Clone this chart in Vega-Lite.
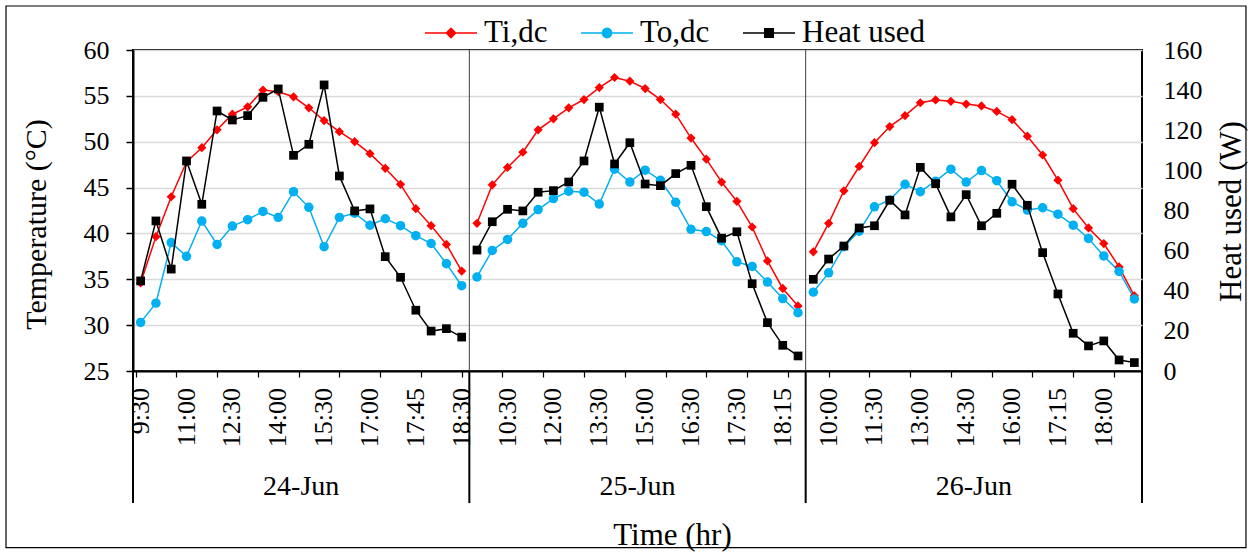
{
  "$schema": "https://vega.github.io/schema/vega-lite/v6.json",
  "width": 1009,
  "height": 321,
  "autosize": {"type": "none"},
  "padding": {"left": 133, "top": 50, "right": 110, "bottom": 181},
  "background": "white",
  "config": {
    "font": "Liberation Serif",
    "view": {"stroke": "black", "strokeWidth": 2},
    "axis": {"labelFont": "Liberation Serif", "titleFont": "Liberation Serif", "labelColor": "black", "titleColor": "black", "titleFontWeight": "normal"},
    "legend": {
      "title": null,
      "orient": "none",
      "legendX": 291,
      "legendY": -44,
      "direction": "horizontal",
      "columns": 3,
      "columnPadding": 30,
      "padding": 0,
      "labelFont": "Liberation Serif",
      "labelFontSize": 31,
      "labelColor": "black",
      "labelOffset": 6,
      "labelLimit": 300,
      "symbolSize": 2704,
      "symbolStrokeWidth": 1.5
    }
  },
  "data": {
    "values": [
      {"day": "24-Jun", "g": 0, "time": "9:30", "Ti,dc": 34.6, "To,dc": 30.3, "Heat used": 44.9},
      {"day": "24-Jun", "g": 1, "Ti,dc": 39.65, "To,dc": 32.4, "Heat used": 74.8},
      {"day": "24-Jun", "g": 2, "Ti,dc": 44.0, "To,dc": 39.0, "Heat used": 50.8},
      {"day": "24-Jun", "g": 3, "time": "11:00", "Ti,dc": 47.8, "To,dc": 37.5, "Heat used": 104.7},
      {"day": "24-Jun", "g": 4, "Ti,dc": 49.35, "To,dc": 41.35, "Heat used": 83.1},
      {"day": "24-Jun", "g": 5, "Ti,dc": 51.3, "To,dc": 38.8, "Heat used": 129.6},
      {"day": "24-Jun", "g": 6, "time": "12:30", "Ti,dc": 53.0, "To,dc": 40.8, "Heat used": 125.1},
      {"day": "24-Jun", "g": 7, "Ti,dc": 53.8, "To,dc": 41.5, "Heat used": 127.3},
      {"day": "24-Jun", "g": 8, "Ti,dc": 55.64, "To,dc": 42.4, "Heat used": 136.4},
      {"day": "24-Jun", "g": 9, "time": "14:00", "Ti,dc": 55.45, "To,dc": 41.75, "Heat used": 140.6},
      {"day": "24-Jun", "g": 10, "Ti,dc": 54.9, "To,dc": 44.55, "Heat used": 107.5},
      {"day": "24-Jun", "g": 11, "Ti,dc": 53.7, "To,dc": 42.85, "Heat used": 113.0},
      {"day": "24-Jun", "g": 12, "time": "15:30", "Ti,dc": 52.3, "To,dc": 38.55, "Heat used": 142.6},
      {"day": "24-Jun", "g": 13, "Ti,dc": 51.1, "To,dc": 41.75, "Heat used": 97.2},
      {"day": "24-Jun", "g": 14, "Ti,dc": 50.0, "To,dc": 42.2, "Heat used": 79.8},
      {"day": "24-Jun", "g": 15, "time": "17:00", "Ti,dc": 48.7, "To,dc": 40.9, "Heat used": 80.8},
      {"day": "24-Jun", "g": 16, "Ti,dc": 47.1, "To,dc": 41.6, "Heat used": 57.0},
      {"day": "24-Jun", "g": 17, "Ti,dc": 45.35, "To,dc": 40.85, "Heat used": 46.7},
      {"day": "24-Jun", "g": 18, "time": "17:45", "Ti,dc": 42.7, "To,dc": 39.75, "Heat used": 30.3},
      {"day": "24-Jun", "g": 19, "Ti,dc": 40.85, "To,dc": 38.9, "Heat used": 19.9},
      {"day": "24-Jun", "g": 20, "Ti,dc": 38.8, "To,dc": 36.7, "Heat used": 21.1},
      {"day": "24-Jun", "g": 21, "time": "18:30", "Ti,dc": 35.9, "To,dc": 34.3, "Heat used": 16.9},
      {"day": "25-Jun", "g": 22, "Ti,dc": 41.1, "To,dc": 35.25, "Heat used": 60.3},
      {"day": "25-Jun", "g": 23, "Ti,dc": 45.3, "To,dc": 38.15, "Heat used": 74.4},
      {"day": "25-Jun", "g": 24, "time": "10:30", "Ti,dc": 47.2, "To,dc": 39.35, "Heat used": 80.6},
      {"day": "25-Jun", "g": 25, "Ti,dc": 48.85, "To,dc": 41.1, "Heat used": 79.8},
      {"day": "25-Jun", "g": 26, "Ti,dc": 51.3, "To,dc": 42.6, "Heat used": 89.1},
      {"day": "25-Jun", "g": 27, "time": "12:00", "Ti,dc": 52.5, "To,dc": 43.8, "Heat used": 89.9},
      {"day": "25-Jun", "g": 28, "Ti,dc": 53.7, "To,dc": 44.6, "Heat used": 94.2},
      {"day": "25-Jun", "g": 29, "Ti,dc": 54.6, "To,dc": 44.5, "Heat used": 104.7},
      {"day": "25-Jun", "g": 30, "time": "13:30", "Ti,dc": 55.9, "To,dc": 43.2, "Heat used": 131.5},
      {"day": "25-Jun", "g": 31, "Ti,dc": 57.0, "To,dc": 47.0, "Heat used": 103.2},
      {"day": "25-Jun", "g": 32, "Ti,dc": 56.6, "To,dc": 45.6, "Heat used": 113.8},
      {"day": "25-Jun", "g": 33, "time": "15:00", "Ti,dc": 55.8, "To,dc": 46.9, "Heat used": 93.2},
      {"day": "25-Jun", "g": 34, "Ti,dc": 54.6, "To,dc": 45.8, "Heat used": 92.4},
      {"day": "25-Jun", "g": 35, "Ti,dc": 53.0, "To,dc": 43.4, "Heat used": 98.4},
      {"day": "25-Jun", "g": 36, "time": "16:30", "Ti,dc": 50.4, "To,dc": 40.45, "Heat used": 102.5},
      {"day": "25-Jun", "g": 37, "Ti,dc": 48.1, "To,dc": 40.2, "Heat used": 81.9},
      {"day": "25-Jun", "g": 38, "Ti,dc": 45.6, "To,dc": 39.2, "Heat used": 66.2},
      {"day": "25-Jun", "g": 39, "time": "17:30", "Ti,dc": 43.5, "To,dc": 36.9, "Heat used": 69.4},
      {"day": "25-Jun", "g": 40, "Ti,dc": 40.7, "To,dc": 36.4, "Heat used": 43.5},
      {"day": "25-Jun", "g": 41, "Ti,dc": 37.0, "To,dc": 34.7, "Heat used": 24.1},
      {"day": "25-Jun", "g": 42, "time": "18:15", "Ti,dc": 34.0, "To,dc": 32.9, "Heat used": 12.8},
      {"day": "25-Jun", "g": 43, "Ti,dc": 32.1, "To,dc": 31.35, "Heat used": 7.5},
      {"day": "26-Jun", "g": 44, "Ti,dc": 38.0, "To,dc": 33.6, "Heat used": 45.7},
      {"day": "26-Jun", "g": 45, "time": "10:00", "Ti,dc": 41.1, "To,dc": 35.7, "Heat used": 55.8},
      {"day": "26-Jun", "g": 46, "Ti,dc": 44.65, "To,dc": 38.55, "Heat used": 62.3},
      {"day": "26-Jun", "g": 47, "Ti,dc": 47.3, "To,dc": 40.25, "Heat used": 71.3},
      {"day": "26-Jun", "g": 48, "time": "11:30", "Ti,dc": 49.9, "To,dc": 42.9, "Heat used": 72.4},
      {"day": "26-Jun", "g": 49, "Ti,dc": 51.65, "To,dc": 43.65, "Heat used": 85.1},
      {"day": "26-Jun", "g": 50, "Ti,dc": 52.85, "To,dc": 45.35, "Heat used": 77.8},
      {"day": "26-Jun", "g": 51, "time": "13:00", "Ti,dc": 54.25, "To,dc": 44.55, "Heat used": 101.5},
      {"day": "26-Jun", "g": 52, "Ti,dc": 54.55, "To,dc": 45.7, "Heat used": 93.4},
      {"day": "26-Jun", "g": 53, "Ti,dc": 54.4, "To,dc": 47.0, "Heat used": 76.8},
      {"day": "26-Jun", "g": 54, "time": "14:30", "Ti,dc": 54.1, "To,dc": 45.6, "Heat used": 87.9},
      {"day": "26-Jun", "g": 55, "Ti,dc": 53.9, "To,dc": 46.85, "Heat used": 72.4},
      {"day": "26-Jun", "g": 56, "Ti,dc": 53.3, "To,dc": 45.75, "Heat used": 78.6},
      {"day": "26-Jun", "g": 57, "time": "16:00", "Ti,dc": 52.4, "To,dc": 43.45, "Heat used": 93.1},
      {"day": "26-Jun", "g": 58, "Ti,dc": 50.6, "To,dc": 42.55, "Heat used": 82.6},
      {"day": "26-Jun", "g": 59, "Ti,dc": 48.55, "To,dc": 42.8, "Heat used": 59.0},
      {"day": "26-Jun", "g": 60, "time": "17:15", "Ti,dc": 45.8, "To,dc": 42.1, "Heat used": 38.4},
      {"day": "26-Jun", "g": 61, "Ti,dc": 42.7, "To,dc": 40.9, "Heat used": 18.8},
      {"day": "26-Jun", "g": 62, "Ti,dc": 40.6, "To,dc": 39.45, "Heat used": 12.5},
      {"day": "26-Jun", "g": 63, "time": "18:00", "Ti,dc": 38.9, "To,dc": 37.55, "Heat used": 15.0},
      {"day": "26-Jun", "g": 64, "Ti,dc": 36.35, "To,dc": 35.85, "Heat used": 5.5},
      {"day": "26-Jun", "g": 65, "Ti,dc": 33.2, "To,dc": 32.85, "Heat used": 4.2}
    ]
  },
  "layer": [
    {
      "layer": [
        {
          "transform": [
            {"fold": ["Ti,dc"], "as": ["series", "value"]}
          ],
          "mark": {"type": "line", "strokeWidth": 1.5, "color": "#ff0000"},
          "encoding": {
            "x": {
              "field": "g", "type": "quantitative",
              "scale": {"domain": [-0.5, 65.5], "nice": false, "zero": false},
              "axis": {
                "values": [-0.333,0,0.333,0.667,1,1.333,1.667,2,2.333,2.667,3,3.333,3.667,4,4.333,4.667,5,5.333,5.667,6,6.333,6.667,7,7.333,7.667,8,8.333,8.667,9,9.333,9.667,10,10.333,10.667,11,11.333,11.667,12,12.333,12.667,13,13.333,13.667,14,14.333,14.667,15,15.333,15.667,16,16.333,16.667,17,17.333,17.667,18,18.333,18.667,19,19.333,19.667,20,20.333,20.667,21,21.333,21.667,22,22.333,22.667,23,23.333,23.667,24,24.333,24.667,25,25.333,25.667,26,26.333,26.667,27,27.333,27.667,28,28.333,28.667,29,29.333,29.667,30,30.333,30.667,31,31.333,31.667,32,32.333,32.667,33,33.333,33.667,34,34.333,34.667,35,35.333,35.667,36,36.333,36.667,37,37.333,37.667,38,38.333,38.667,39,39.333,39.667,40,40.333,40.667,41,41.333,41.667,42,42.333,42.667,43,43.333,43.667,44,44.333,44.667,45,45.333,45.667,46,46.333,46.667,47,47.333,47.667,48,48.333,48.667,49,49.333,49.667,50,50.333,50.667,51,51.333,51.667,52,52.333,52.667,53,53.333,53.667,54,54.333,54.667,55,55.333,55.667,56,56.333,56.667,57,57.333,57.667,58,58.333,58.667,59,59.333,59.667,60,60.333,60.667,61,61.333,61.667,62,62.333,62.667,63,63.333,63.667,64,64.333,64.667,65,65.333],
                "labels": false,
                "grid": false,
                "domainColor": "black",
                "domainWidth": 2,
                "tickColor": "black",
                "tickSize": 6,
                "tickWidth": 1.2,
                "title": "Time (hr)",
                "titleFontSize": 31,
                "titleX": 539,
                "titleY": 173,
                "titleAlign": "center",
                "titleAnchor": null,
                "titleBaseline": "alphabetic"
              }
            },
            "y": {
              "field": "value", "type": "quantitative",
              "scale": {"domain": [25, 60], "nice": false, "zero": false},
              "axis": {
                "values": [25, 30, 35, 40, 45, 50, 55, 60],
                "grid": true,
                "gridColor": "#d9d9d9",
                "gridWidth": 1.5,
                "domainColor": "black",
                "domainWidth": 2,
                "tickColor": "black",
                "tickSize": 7,
                "tickWidth": 1.5,
                "labelFontSize": 26,
                "labelPadding": 17,
                "title": "Temperature (°C)",
                "titleFontSize": 30,
                "titleAngle": 270,
                "titleX": -88,
                "titleY": 174,
                "titleAlign": "center",
                "titleAnchor": null,
                "titleBaseline": "alphabetic"
              }
            },
            "detail": {"field": "day", "type": "nominal"}
          }
        },
        {
          "transform": [
            {"fold": ["To,dc"], "as": ["series", "value"]}
          ],
          "mark": {"type": "line", "strokeWidth": 1.5, "color": "#00b0f0"},
          "encoding": {
            "x": {"field": "g", "type": "quantitative"},
            "y": {"field": "value", "type": "quantitative"},
            "detail": {"field": "day", "type": "nominal"}
          }
        },
        {
          "data": {"values": [{}]},
          "mark": {"type": "rect", "filled": false, "stroke": "black", "strokeWidth": 1.2, "clip": false},
          "encoding": {
            "x": {"datum": -8.807, "type": "quantitative"},
            "x2": {"datum": 72.3},
            "y": {"datum": 64.8, "type": "quantitative"},
            "y2": {"datum": 5.75}
          }
        },
        {
          "data": {"values": [{}]},
          "mark": {"type": "rule", "color": "#404040", "strokeWidth": 1, "clip": false},
          "encoding": {
            "x": {"datum": 21.5, "type": "quantitative"},
            "y": {"datum": 25, "type": "quantitative"},
            "y2": {"datum": 60}
          }
        },
        {
          "data": {"values": [{}]},
          "mark": {"type": "rule", "color": "#404040", "strokeWidth": 1, "clip": false},
          "encoding": {
            "x": {"datum": 43.5, "type": "quantitative"},
            "y": {"datum": 25, "type": "quantitative"},
            "y2": {"datum": 60}
          }
        },
        {
          "data": {"values": [{}]},
          "mark": {"type": "rule", "color": "black", "strokeWidth": 2, "clip": false},
          "encoding": {
            "x": {"datum": -0.5, "type": "quantitative"},
            "y": {"datum": 25, "type": "quantitative"},
            "y2": {"datum": 10.6}
          }
        },
        {
          "data": {"values": [{}]},
          "mark": {"type": "rule", "color": "black", "strokeWidth": 2, "clip": false},
          "encoding": {
            "x": {"datum": 21.5, "type": "quantitative"},
            "y": {"datum": 25, "type": "quantitative"},
            "y2": {"datum": 10.6}
          }
        },
        {
          "data": {"values": [{}]},
          "mark": {"type": "rule", "color": "black", "strokeWidth": 2, "clip": false},
          "encoding": {
            "x": {"datum": 43.5, "type": "quantitative"},
            "y": {"datum": 25, "type": "quantitative"},
            "y2": {"datum": 10.6}
          }
        },
        {
          "data": {"values": [{}]},
          "mark": {"type": "rule", "color": "black", "strokeWidth": 2, "clip": false},
          "encoding": {
            "x": {"datum": 65.5, "type": "quantitative"},
            "y": {"datum": 25, "type": "quantitative"},
            "y2": {"datum": 10.6}
          }
        },
        {
          "transform": [
            {"fold": ["Ti,dc"], "as": ["series", "value"]}
          ],
          "mark": {"type": "point", "shape": "diamond", "filled": true, "size": 85, "opacity": 1, "color": "#ff0000"},
          "encoding": {
            "x": {"field": "g", "type": "quantitative"},
            "y": {"field": "value", "type": "quantitative"}
          }
        },
        {
          "transform": [
            {"fold": ["To,dc"], "as": ["series", "value"]}
          ],
          "mark": {"type": "point", "shape": "circle", "filled": true, "size": 90, "opacity": 1, "color": "#00b0f0"},
          "encoding": {
            "x": {"field": "g", "type": "quantitative"},
            "y": {"field": "value", "type": "quantitative"}
          }
        },
        {
          "transform": [
            {"fold": ["Ti,dc", "To,dc", "Heat used"], "as": ["series", "value"]},
            {"filter": "false"}
          ],
          "mark": {"type": "point", "filled": true, "opacity": 1},
          "encoding": {
            "x": {"field": "g", "type": "quantitative"},
            "y": {"field": "value", "type": "quantitative"},
            "fill": {
              "field": "series", "type": "nominal",
              "scale": {"domain": ["Ti,dc", "To,dc", "Heat used"], "range": ["#ff0000", "#00b0f0", "#000000"]}
            },
            "stroke": {
              "field": "series", "type": "nominal",
              "scale": {"domain": ["Ti,dc", "To,dc", "Heat used"], "range": ["#ff0000", "#00b0f0", "#000000"]}
            },
            "shape": {
              "field": "series", "type": "nominal",
              "scale": {
                "domain": ["Ti,dc", "To,dc", "Heat used"],
                "range": [
                  "M-1,0H1M0,-0.18L0.18,0L0,0.18L-0.18,0Z",
                  "M-1,0H1M-0.18,0A0.18,0.18 0 1,0 0.18,0A0.18,0.18 0 1,0 -0.18,0Z",
                  "M-1,0H1M-0.165,-0.165H0.165V0.165H-0.165Z"
                ]
              }
            }
          }
        },
        {
          "transform": [{"filter": "datum.time"}],
          "mark": {"type": "text", "font": "Liberation Serif", "fontSize": 26, "angle": 270, "align": "right", "baseline": "middle", "color": "black", "clip": false},
          "encoding": {
            "x": {"field": "g", "type": "quantitative"},
            "y": {"datum": 23.145, "type": "quantitative"},
            "text": {"field": "time"}
          }
        },
        {
          "transform": [{"aggregate": [{"op": "mean", "field": "g", "as": "mid"}], "groupby": ["day"]}],
          "mark": {"type": "text", "font": "Liberation Serif", "fontSize": 28, "align": "center", "baseline": "alphabetic", "color": "black", "clip": false},
          "encoding": {
            "x": {"field": "mid", "type": "quantitative"},
            "y": {"datum": 11.48, "type": "quantitative"},
            "text": {"field": "day"}
          }
        }
      ]
    },
    {
      "transform": [
        {"fold": ["Heat used"], "as": ["series", "value"]}
      ],
      "layer": [
        {
          "mark": {"type": "line", "strokeWidth": 1.5, "color": "#000000"},
          "encoding": {
            "x": {"field": "g", "type": "quantitative"},
            "y": {
              "field": "value", "type": "quantitative",
              "scale": {"domain": [0, 160], "nice": false, "zero": false},
              "axis": {
                "orient": "right",
                "values": [0, 20, 40, 60, 80, 100, 120, 140, 160],
                "grid": false,
                "domain": false,
                "ticks": false,
                "labelFontSize": 26,
                "labelPadding": 21,
                "title": "Heat used (W)",
                "titleFontSize": 31,
                "titleAngle": 270,
                "titleX": 98,
                "titleY": 161,
                "titleAlign": "center",
                "titleAnchor": null,
                "titleBaseline": "alphabetic"
              }
            },
            "detail": {"field": "day", "type": "nominal"}
          }
        },
        {
          "mark": {"type": "point", "shape": "square", "filled": true, "size": 76, "opacity": 1, "color": "#000000"},
          "encoding": {
            "x": {"field": "g", "type": "quantitative"},
            "y": {"field": "value", "type": "quantitative"}
          }
        }
      ]
    }
  ],
  "resolve": {"scale": {"y": "independent"}}
}
